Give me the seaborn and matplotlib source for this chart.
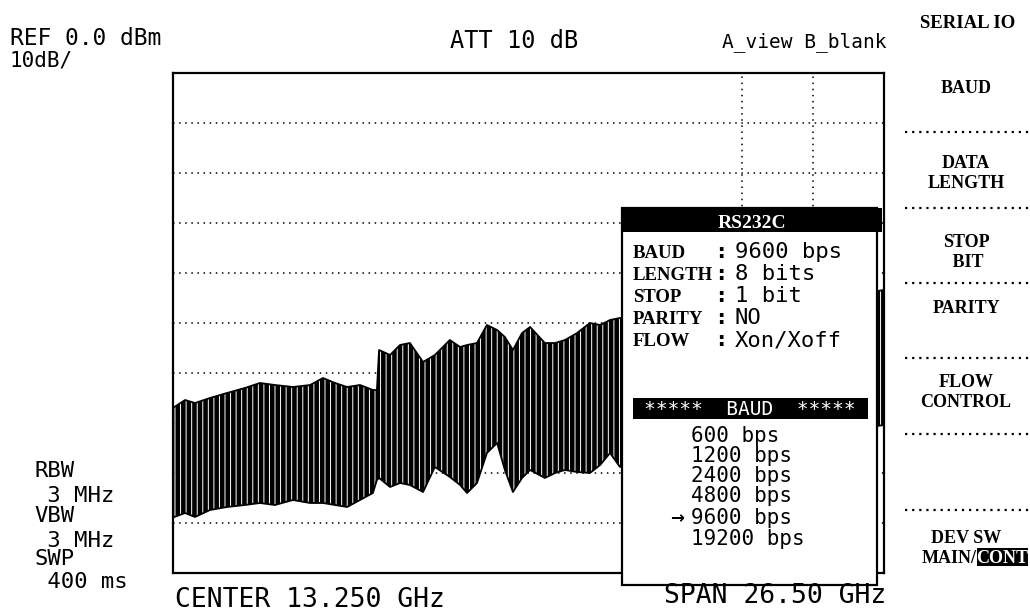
import matplotlib
matplotlib.use("Agg")
import matplotlib.pyplot as plt
from matplotlib.patches import Rectangle
from matplotlib.lines import Line2D
import pandas as pd
import seaborn as sns

freq_ghz = [0.05, 0.45, 0.82, 1.38, 2.01, 2.68, 3.24, 3.80, 4.47, 5.11, 5.59, 6.04,
            6.49, 6.97, 7.45, 7.60, 7.68, 8.09, 8.46, 8.83, 9.32, 9.76, 10.32, 10.70,
            10.96, 11.33, 11.70, 12.08, 12.37, 12.67, 13.01, 13.31, 13.86, 14.24, 14.61,
            15.06, 15.54, 15.92, 16.29, 16.66, 17.78, 19.64, 21.51, 23.37, 25.23, 26.50]
upper_dbm = [-66.8, -65.4, -66.0, -65.0, -64.0, -63.0, -62.0, -62.4, -62.8, -62.4, -61.0, -62.0,
             -62.8, -62.4, -63.4, -63.4, -55.4, -56.4, -54.4, -54.0, -57.8, -56.4, -53.4, -54.8,
             -54.4, -54.0, -50.4, -51.4, -52.8, -55.4, -52.0, -50.8, -54.0, -54.0, -53.4,
             -52.0, -50.0, -50.4, -49.4, -49.0, -48.4, -47.4, -46.4, -45.4, -44.4, -43.4]
lower_dbm = [-88.8, -88.0, -88.8, -87.4, -86.8, -86.4, -86.0, -86.4, -85.4, -86.0, -86.0, -86.4,
             -86.8, -85.4, -84.0, -81.4, -81.0, -82.8, -82.0, -82.4, -83.8, -78.8, -80.8, -82.4,
             -84.0, -82.0, -76.0, -74.0, -79.4, -83.8, -81.0, -79.4, -81.0, -80.0, -79.4,
             -79.8, -80.0, -78.4, -76.0, -78.8, -77.4, -76.4, -74.4, -73.4, -71.4, -70.4]

ref_level_dbm = 0.0
db_per_div = 10
n_div = 10
span_ghz = 26.5
visible_vgrid_divs = [8, 9]

header_ref = "REF 0.0 dBm"
header_scale = "10dB/"
header_att = "ATT 10 dB"
header_trace = "A_view B_blank"
left_params = ["RBW", " 3 MHz", "VBW", " 3 MHz", "SWP", " 400 ms"]
footer_center = "CENTER 13.250 GHz"
footer_span = "SPAN 26.50 GHz"

menu_title = "SERIAL IO"
softkeys = ["BAUD", "DATA\nLENGTH", "STOP\n BIT", "PARITY", "FLOW\nCONTROL"]
devsw_top = "DEV SW"
devsw_main = "MAIN/"
devsw_sel = "CONT"

box_title = "RS232C"
setting_names = ["BAUD", "LENGTH", "STOP", "PARITY", "FLOW"]
setting_values = ["9600 bps", "8 bits", "1 bit", "NO", "Xon/Xoff"]
list_title = "*****  BAUD  *****"
baud_options = ["600 bps", "1200 bps", "2400 bps", "4800 bps", "9600 bps", "19200 bps"]
selected_baud = "9600 bps"

# ---------------- figure ----------------
W, H = 1030, 611
sns.set_theme(style="white")
plt.rcParams['font.family'] = ['DejaVu Sans Mono', 'DejaVu Sans']
plt.rcParams['patch.force_edgecolor'] = False
plt.rcParams['hatch.color'] = 'white'
plt.rcParams['hatch.linewidth'] = 0.7

fig = plt.figure(figsize=(W / 100, H / 100), dpi=100)
fig.patch.set_facecolor("white")

PL, PR, PT, PB = 173, 884, 73, 573
ax = fig.add_axes([PL / W, 1 - PB / H, (PR - PL) / W, (PB - PT) / H])
ax.set_facecolor("white")

df = pd.DataFrame({"freq": freq_ghz, "upper": upper_dbm, "lower": lower_dbm})
ax.fill_between(df["freq"], df["lower"], df["upper"], facecolor="black", lw=0,
                hatch="|||", zorder=3)
sns.lineplot(data=df, x="freq", y="upper", color="black", lw=1.3, ax=ax, zorder=4)
sns.lineplot(data=df, x="freq", y="lower", color="black", lw=1.3, ax=ax, zorder=4)

bottom = ref_level_dbm - db_per_div * n_div
ax.set_xlim(0, span_ghz)
ax.set_ylim(bottom, ref_level_dbm)
ax.set_xticks([])
ax.set_yticks([])
ax.set_xlabel("")
ax.set_ylabel("")
for i in range(1, n_div):
    ax.axhline(ref_level_dbm - i * db_per_div, color="black", lw=1.1,
               ls=(0, (1, 3)), zorder=2)
for d in visible_vgrid_divs:
    ax.axvline(d * span_ghz / n_div, color="black", lw=1.1, ls=(0, (1, 3)), zorder=2)
for s in ax.spines.values():
    s.set_color("black")
    s.set_linewidth(1.6)
    s.set_visible(True)


def fx(x):
    return x / W


def fy(y):
    return 1 - y / H


def ftext(x, y, s, **kw):
    kw.setdefault("va", "baseline")
    kw.setdefault("color", "black")
    kw.setdefault("zorder", 20)
    fig.text(fx(x), fy(y), s, **kw)


def frect(x0, y0, x1, y1, **kw):
    fig.add_artist(Rectangle((fx(x0), fy(y1)), (x1 - x0) / W, (y1 - y0) / H,
                             transform=fig.transFigure, **kw))


def fline(x0, x1, y, **kw):
    fig.add_artist(Line2D([fx(x0), fx(x1)], [fy(y), fy(y)],
                          transform=fig.transFigure, **kw))


MONO = ["DejaVu Sans Mono", "DejaVu Sans"]
SERIF = ["Liberation Serif", "DejaVu Serif"]

# header / footer texts
ftext(10, 45, header_ref, size=16.5, family=MONO)
ftext(10, 67, header_scale, size=15, family=MONO)
ftext(450, 48, header_att, size=17, family=MONO)
ftext(886, 47, header_trace, size=14, family=MONO, ha="right")
ftext(175, 607, footer_center, size=19, family=MONO)
ftext(886, 603, footer_span, size=19, family=MONO, ha="right")

left_base = [477, 502, 522, 547, 565, 588]
for s, yb in zip(left_params, left_base):
    ftext(34, yb, s, size=16, family=MONO)

# soft-key menu on the right
KX = 966
ftext(968, 28, menu_title, size=13.5, family=SERIF, weight="bold", ha="center")
key_base = [93, 188, 267, 313, 407]
for s, yb in zip(softkeys, key_base):
    ftext(KX, yb, s, size=13, family=SERIF, weight="bold", ha="center",
          linespacing=1.2, ma="center")
for ys in [132, 208, 283, 358, 434, 510]:
    fline(905, 1030, ys, color="black", lw=1.6, ls=(0, (1, 2.2)), zorder=15)
ftext(KX, 543, devsw_top, size=13, family=SERIF, weight="bold", ha="center")
frect(977, 548, 1028, 566, facecolor="black", edgecolor="none", zorder=16)
ftext(977, 563, devsw_main, size=13, family=SERIF, weight="bold", ha="right")
ftext(1002, 563, devsw_sel, size=13, family=SERIF, weight="bold", ha="center",
      color="white")

# RS232C pop-up box
frect(622, 208, 877, 585, facecolor="white", edgecolor="black", lw=1.6, zorder=16)
frect(622, 208, 882, 232, facecolor="black", edgecolor="none", zorder=17)
ftext(752, 228, box_title, size=14, family=SERIF, weight="bold", ha="center",
      color="white")
row_base = [258, 280, 302, 324, 346]
for name, val, yb in zip(setting_names, setting_values, row_base):
    ftext(633, yb, name, size=13.5, family=SERIF, weight="bold")
    ftext(721, yb, ":", size=16, family=MONO, weight="bold", ha="center")
    ftext(735, yb, val, size=16, family=MONO)
frect(633, 398, 868, 419, facecolor="black", edgecolor="none", zorder=17)
ftext(750, 415, list_title, size=14, family=MONO, ha="center", color="white")
list_base = [442, 462, 482, 502, 524, 545]
for opt, yb in zip(baud_options, list_base):
    ftext(691, yb, opt, size=15, family=MONO)
    if opt == selected_baud:
        ftext(677, yb - 1, "\u2192", size=12, family=["DejaVu Sans"], weight="bold",
              ha="center")

fig.savefig("out.png", dpi=100, facecolor="white")
